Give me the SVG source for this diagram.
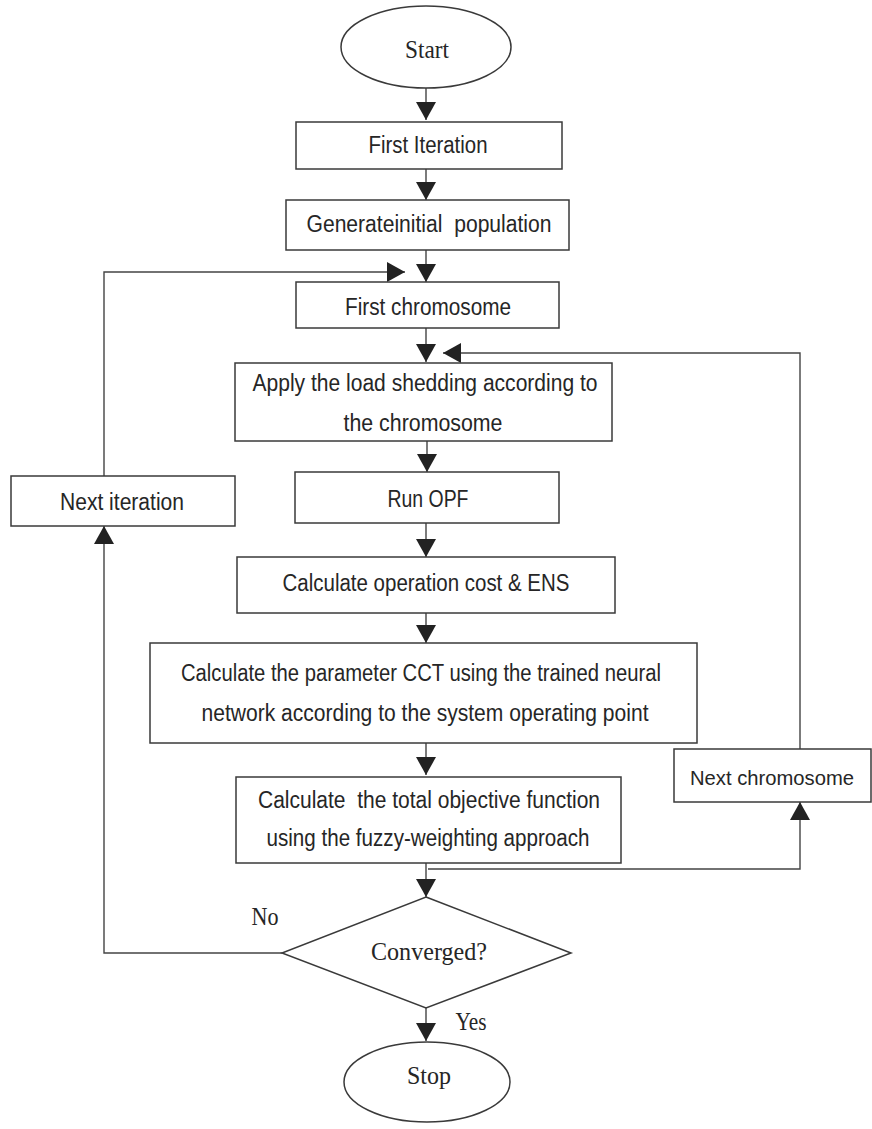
<svg xmlns="http://www.w3.org/2000/svg" width="872" height="1129" viewBox="0 0 872 1129">
<style>
.box{fill:#fff;stroke:#3a3a3a;stroke-width:1.5}
.t{font-family:"Liberation Sans",Arial,sans-serif;font-size:23px;fill:#262626;text-anchor:middle}
.s{font-family:"Liberation Serif","Times New Roman",serif;font-size:26px;fill:#262626;text-anchor:middle}
.c{fill:none;stroke:#444;stroke-width:1.4}
</style>
<defs>
<marker id="ah" viewBox="0 0 18 20" refX="18" refY="10" markerWidth="18" markerHeight="20" markerUnits="userSpaceOnUse" orient="auto">
<path d="M0,0 L18,10 L0,20 z" fill="#222"/>
</marker>
</defs>
<rect width="872" height="1129" fill="#fff"/>
<g id="connectors">
<line class="c" x1="426" y1="88" x2="426" y2="120" marker-end="url(#ah)"/>
<line class="c" x1="426" y1="169" x2="426" y2="200" marker-end="url(#ah)"/>
<line class="c" x1="426" y1="250" x2="426" y2="282" marker-end="url(#ah)"/>
<path class="c" d="M104,476 V272 H405" marker-end="url(#ah)"/>
<line class="c" x1="426" y1="328" x2="426" y2="362" marker-end="url(#ah)"/>
<path class="c" d="M800,749 V353 H443" marker-end="url(#ah)"/>
<line class="c" x1="427" y1="441" x2="427" y2="472" marker-end="url(#ah)"/>
<line class="c" x1="426" y1="523" x2="426" y2="557" marker-end="url(#ah)"/>
<line class="c" x1="426" y1="613" x2="426" y2="643" marker-end="url(#ah)"/>
<line class="c" x1="426" y1="743" x2="426" y2="775" marker-end="url(#ah)"/>
<line class="c" x1="426" y1="863" x2="426" y2="897" marker-end="url(#ah)"/>
<path class="c" d="M428,869 H800 V802" marker-end="url(#ah)"/>
<path class="c" d="M282,953 H104 V526" marker-end="url(#ah)"/>
<line class="c" x1="426" y1="1008" x2="426" y2="1041" marker-end="url(#ah)"/>
<text class="s" x="265" y="925" textLength="27" lengthAdjust="spacingAndGlyphs">No</text>
<text class="s" x="471" y="1030" textLength="31" lengthAdjust="spacingAndGlyphs">Yes</text>
</g>
<g id="start">
<ellipse class="box" cx="426" cy="47" rx="85" ry="41"/>
<text class="s" x="427" y="58" textLength="44" lengthAdjust="spacingAndGlyphs">Start</text>
</g>
<g id="first-iteration">
<rect class="box" x="296" y="122" width="266" height="47"/>
<text class="t" x="428" y="153" textLength="119" lengthAdjust="spacingAndGlyphs">First Iteration</text>
</g>
<g id="generate">
<rect class="box" x="286" y="200" width="283" height="50"/>
<text class="t" x="429" y="232" textLength="245" lengthAdjust="spacingAndGlyphs" xml:space="preserve">Generateinitial  population</text>
</g>
<g id="first-chromosome">
<rect class="box" x="296" y="282" width="263" height="46"/>
<text class="t" x="428" y="315" textLength="166" lengthAdjust="spacingAndGlyphs">First chromosome</text>
</g>
<g id="apply">
<rect class="box" x="235" y="363" width="377" height="78"/>
<text class="t" x="425" y="391" textLength="345" lengthAdjust="spacingAndGlyphs">Apply the load shedding according to</text>
<text class="t" x="423" y="431" textLength="159" lengthAdjust="spacingAndGlyphs">the chromosome</text>
</g>
<g id="next-iteration">
<rect class="box" x="11" y="476" width="224" height="50"/>
<text class="t" x="122" y="510" textLength="124" lengthAdjust="spacingAndGlyphs">Next iteration</text>
</g>
<g id="run-opf">
<rect class="box" x="295" y="472" width="264" height="51"/>
<text class="t" x="428" y="507" textLength="81" lengthAdjust="spacingAndGlyphs">Run OPF</text>
</g>
<g id="calc-cost">
<rect class="box" x="237" y="557" width="378" height="56"/>
<text class="t" x="426" y="591" textLength="287" lengthAdjust="spacingAndGlyphs">Calculate operation cost &amp; ENS</text>
</g>
<g id="calc-cct">
<rect class="box" x="150" y="643" width="547" height="100"/>
<text class="t" x="421" y="681" textLength="480" lengthAdjust="spacingAndGlyphs">Calculate the parameter CCT using the trained neural</text>
<text class="t" x="425" y="721" textLength="447" lengthAdjust="spacingAndGlyphs">network according to the system operating point</text>
</g>
<g id="calc-objective">
<rect class="box" x="236" y="777" width="385" height="86"/>
<text class="t" x="429" y="808" textLength="342" lengthAdjust="spacingAndGlyphs" xml:space="preserve">Calculate  the total objective function</text>
<text class="t" x="428" y="846" textLength="323" lengthAdjust="spacingAndGlyphs">using the fuzzy-weighting approach</text>
</g>
<g id="next-chromosome">
<rect class="box" x="674" y="749" width="197" height="53"/>
<text class="t" x="772" y="785" style="font-size:21px" textLength="164" lengthAdjust="spacingAndGlyphs">Next chromosome</text>
</g>
<g id="converged">
<polygon class="box" points="426,897 571,953 426,1008 282,953"/>
<text class="s" x="429" y="960" textLength="116" lengthAdjust="spacingAndGlyphs">Converged?</text>
</g>
<g id="stop">
<ellipse class="box" cx="427" cy="1082" rx="83" ry="40"/>
<text class="s" x="429" y="1084" textLength="44" lengthAdjust="spacingAndGlyphs">Stop</text>
</g>
</svg>
